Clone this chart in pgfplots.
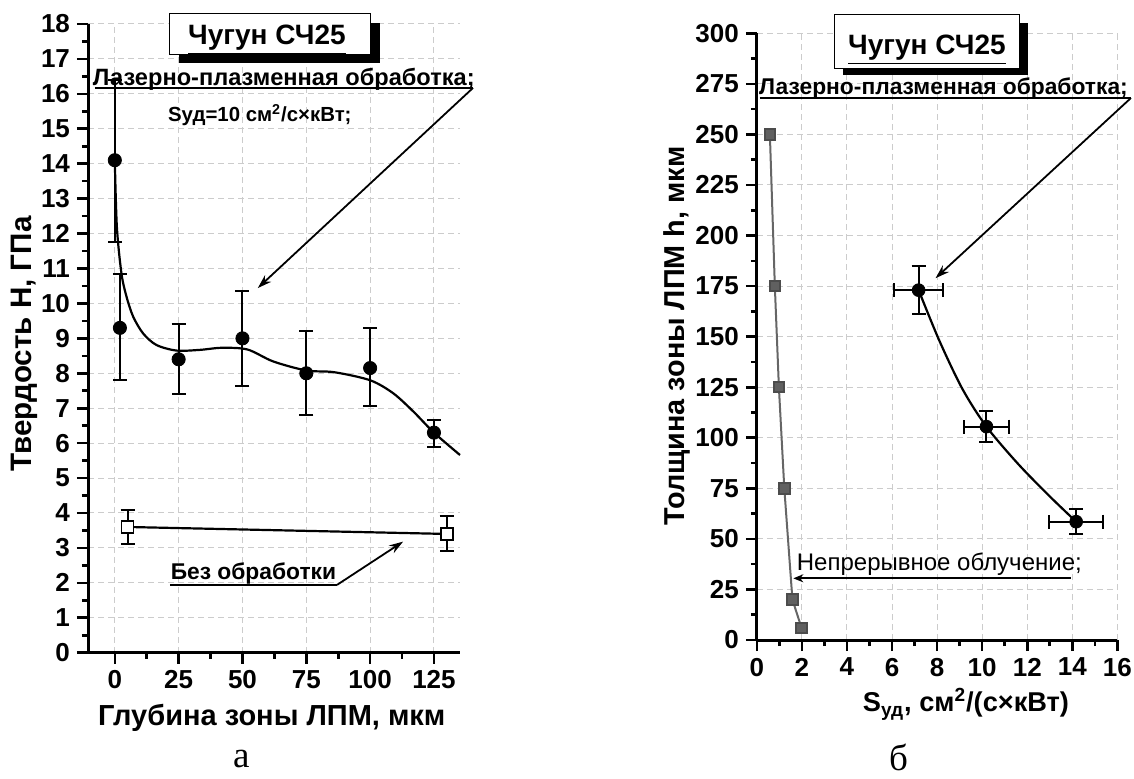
\documentclass[border=0pt]{standalone}
\usepackage{fontspec}
\setmainfont{Liberation Sans}
\newfontfamily\serifa{Liberation Serif}
\usepackage{graphicx}
\usepackage{pgfplots}
\pgfplotsset{compat=1.18}
\usetikzlibrary{arrows.meta}

\pgfplotsset{
  panel/.style={
    scale only axis,
    axis x line*=bottom, axis y line*=left,
    axis line style={line width=1.5pt},
    tick align=outside,
    major tick length=5.5pt, minor tick length=3pt,
    every tick/.style={black, line width=1.3pt},
    tick label style={font=\fontsize{13}{14}\selectfont\bfseries},
    /pgf/number format/assume math mode=true,
    grid=major,
    major grid style={densely dashed, gray!40, line width=0.5pt},
    minor x tick num=1, minor y tick num=1,
    clip=false,
  },
  ebar/.style={
    error bars/error bar style={line width=1pt, black},
    error bars/error mark options={rotate=90, mark size=3.5pt, line width=1pt, black}},
}

\begin{document}
\begin{tikzpicture}
\useasboundingbox (0,0) rectangle (567pt,389pt);

% ---------- панель а ----------
\begin{axis}[panel,
  at={(44pt,62.65pt)}, anchor=south west,
  width=186pt, height=314.35pt,
  xmin=-10.5, xmax=135.2, ymin=0, ymax=18,
  xtick={0,25,...,125}, ytick={0,1,...,18},
]
% аппроксимирующая кривая
\addplot[black, line width=1.1pt, smooth, tension=0.5] coordinates {
  (0,14.1) (0.8,12.2) (2.6,10.86) (4.6,10.19) (7.2,9.62) (11.1,9.14)
  (16.3,8.81) (24.2,8.65) (33.3,8.67) (42,8.73) (52,8.68) (62,8.34)
  (75,8.08) (86,8.03) (100,7.8) (109,7.43) (117,6.9) (125,6.3) (135.2,5.66)
};
% ЛПМ
\addplot[black, only marks, mark=*, mark size=3.3pt, ebar,
  error bars/y dir=both, error bars/y explicit] coordinates {
  (0,14.1) += (0,2.3) -= (0,2.35)
  (2,9.3) += (0,1.55) -= (0,1.5)
  (25,8.4) += (0,1.0) -= (0,1.0)
  (50,9.0) += (0,1.35) -= (0,1.35)
  (75,8.0) += (0,1.2) -= (0,1.2)
  (100,8.15) += (0,1.15) -= (0,1.1)
  (125,6.3) += (0,0.35) -= (0,0.4)
};
% без обработки
\addplot[black, line width=1.1pt, mark=square*, mark size=3pt,
  mark options={fill=white, line width=0.8pt}, ebar,
  error bars/y dir=both, error bars/y explicit] coordinates {
  (5,3.6) +- (0,0.5)
  (130,3.4) +- (0,0.5)
};

% подписи осей
\node[rotate=90, font=\fontsize{14.8}{16}\selectfont\bfseries] at (axis cs:-35.3,8.84) {Твердость H, ГПа};
\node[anchor=base, font=\fontsize{14.5}{16}\selectfont\bfseries] at (axis cs:61.5,-2.07) {Глубина зоны ЛПМ, мкм};

% рамка с заголовком
\fill[black] (axis cs:25.05,18.03) rectangle (axis cs:103.8,16.88);
\draw[fill=white, line width=0.5pt] (axis cs:21.55,18.29) rectangle (axis cs:100.3,17.14);
\node[anchor=base, font=\fontsize{14}{15}\selectfont\bfseries] at (axis cs:59.6,17.4) {\underline{Чугун СЧ25}};

\node[anchor=base, inner sep=0, font=\fontsize{11.8}{13}\selectfont\bfseries] at (axis cs:66.2,16.25) {Лазерно-плазменная обработка;};
\draw[line width=0.9pt] (axis cs:-7.8,16.17) -- (axis cs:140.3,16.17);
\draw[line width=0.9pt, -{Stealth[length=7pt,width=4.5pt]}] (axis cs:140.3,16.17) -- (axis cs:56,10.44);
\node[font=\fontsize{10.2}{11}\selectfont\bfseries] at (axis cs:56.8,15.39) {Sуд=10 см\textsuperscript{2}/с×кВт;};

\node[anchor=base, inner sep=0, font=\fontsize{11.4}{12}\selectfont\bfseries] at (axis cs:54.3,2.1) {Без обработки};
\draw[line width=0.9pt] (axis cs:21.55,1.94) -- (axis cs:87,1.94);
\draw[line width=0.9pt, -{Stealth[length=7pt,width=4.5pt]}] (axis cs:87,1.94) -- (axis cs:112.9,3.18);

\node[anchor=base, inner sep=0, font=\fontsize{18.5}{20}\selectfont\serifa] at (axis cs:49.6,-3.3) {а};
\end{axis}

% ---------- панель б ----------
\begin{axis}[panel,
  at={(378.4pt,69pt)}, anchor=south west,
  width=180.3pt, height=303.35pt,
  xmin=0, xmax=16, ymin=0, ymax=300,
  xtick={0,2,...,16}, ytick={0,25,...,300},
]
% непрерывное облучение
\addplot[gray!80!black, line width=1pt, mark=square*, mark size=2.6pt,
  mark options={fill=gray!75!black, draw=gray!60!black}] coordinates {
  (0.58,250) (0.80,175) (0.98,125) (1.22,75) (1.58,20) (1.99,5.8)
};
% ЛПМ: аппроксимация
\addplot[black, line width=1.1pt, smooth] coordinates {
  (7.18,173) (8.1,148) (9.13,124) (10.19,105.5) (11.6,87) (13.0,71) (14.17,58.5)
};
\addplot[black, only marks, mark=*, mark size=3.2pt, ebar,
  error bars/x dir=both, error bars/x explicit,
  error bars/y dir=both, error bars/y explicit] coordinates {
  (7.18,173) +- (1.08,12)
  (10.19,105.5) +- (1.0,7.8)
  (14.17,58.5) +- (1.2,6.2)
};

\node[rotate=90, font=\fontsize{14.4}{16}\selectfont\bfseries] at (axis cs:-3.54,150.3) {Толщина зоны ЛПМ h, мкм};
\node[anchor=base, font=\fontsize{13.6}{15}\selectfont\bfseries] at (axis cs:9.28,-35.5) {S\textsubscript{уд}, см\textsuperscript{2}/(с×кВт)};

\fill[black] (axis cs:3.82,305.1) rectangle (axis cs:12.02,279.4);
\draw[fill=white, line width=0.5pt] (axis cs:3.45,309.1) rectangle (axis cs:11.65,282.7);
\node[anchor=base, font=\fontsize{14}{15}\selectfont\bfseries] at (axis cs:7.55,289.3) {\underline{Чугун СЧ25}};

\node[anchor=base, inner sep=0, font=\fontsize{11.4}{12}\selectfont\bfseries] at (axis cs:8.28,269.9) {Лазерно-плазменная обработка;};
\draw[line width=0.9pt] (axis cs:0.12,268) -- (axis cs:16.6,268);
\draw[line width=0.9pt, -{Stealth[length=7pt,width=4.5pt]}] (axis cs:16.6,268) -- (axis cs:7.93,178.9);

\node[anchor=base, inner sep=0, font=\fontsize{12}{13}\selectfont] at (axis cs:8.1,34.6) {Непрерывное облучение;};
\draw[line width=0.9pt, -{Stealth[length=5pt,width=4pt]}] (axis cs:13.93,30.5) -- (axis cs:1.62,30.5);

\node[anchor=base, inner sep=0, font=\fontsize{18.5}{20}\selectfont\serifa] at (axis cs:6.29,-64.3) {б};
\end{axis}
\end{tikzpicture}
\end{document}
